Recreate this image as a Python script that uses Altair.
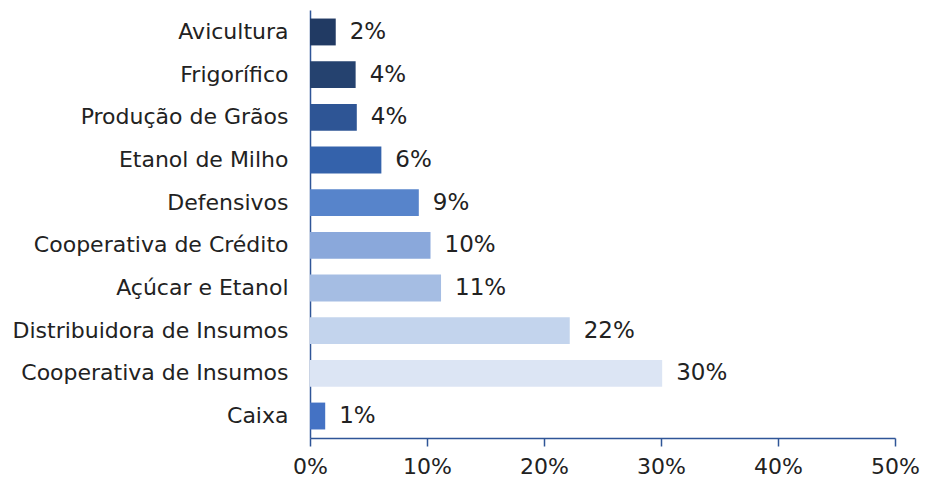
import altair as alt
import pandas as pd

categories = ["Avicultura", "Frigorífico", "Produção de Grãos", "Etanol de Milho", "Defensivos",
              "Cooperativa de Crédito", "Açúcar e Etanol", "Distribuidora de Insumos",
              "Cooperativa de Insumos", "Caixa"]
values = [0.022, 0.039, 0.040, 0.061, 0.093, 0.103, 0.112, 0.222, 0.301, 0.013]
labels = ["2%", "4%", "4%", "6%", "9%", "10%", "11%", "22%", "30%", "1%"]
colors = ["#213A63", "#25426F", "#2E5595", "#3462AB", "#5784CB", "#8AA8DB", "#A5BDE3",
          "#C3D4ED", "#DCE5F4", "#4472C4"]

df = pd.DataFrame({"cat": categories, "val": values, "lab": labels, "col": colors})

FONT = "DejaVu Sans"

base = alt.Chart(df).encode(
    y=alt.Y("cat:N", sort=categories, title=None,
            scale=alt.Scale(paddingInner=0.37, paddingOuter=0.2),
            axis=alt.Axis(labelFontSize=22, labelColor="#222222", labelFont=FONT,
                          labelPadding=22, ticks=False, domainColor="#2F5597",
                          domainWidth=1.5, labelLimit=400)),
)

bars = base.mark_bar().encode(
    x=alt.X("val:Q", title=None,
            scale=alt.Scale(domain=[0, 0.5]),
            axis=alt.Axis(values=[0, 0.1, 0.2, 0.3, 0.4, 0.5], format=".0%",
                          labelFontSize=22, labelColor="#222222", labelFont=FONT,
                          labelFlush=False,
                          grid=False, domainColor="#2F5597", domainWidth=1.5,
                          tickColor="#2F5597", tickSize=8, tickWidth=1.5,
                          labelPadding=10)),
    color=alt.Color("col:N", scale=None),
)

text = base.mark_text(align="left", dx=14, fontSize=23, color="#222222", font=FONT).encode(
    x=alt.X("val:Q"),
    text="lab:N",
)

chart = (bars + text).properties(
    width=585, height=428,
    autosize=alt.AutoSizeParams(type="none"),
    padding={"left": 302, "top": 2, "right": 25, "bottom": 40},
).configure_view(stroke=None)

chart.save("out.html", embed_options={"renderer": "svg", "actions": False})
